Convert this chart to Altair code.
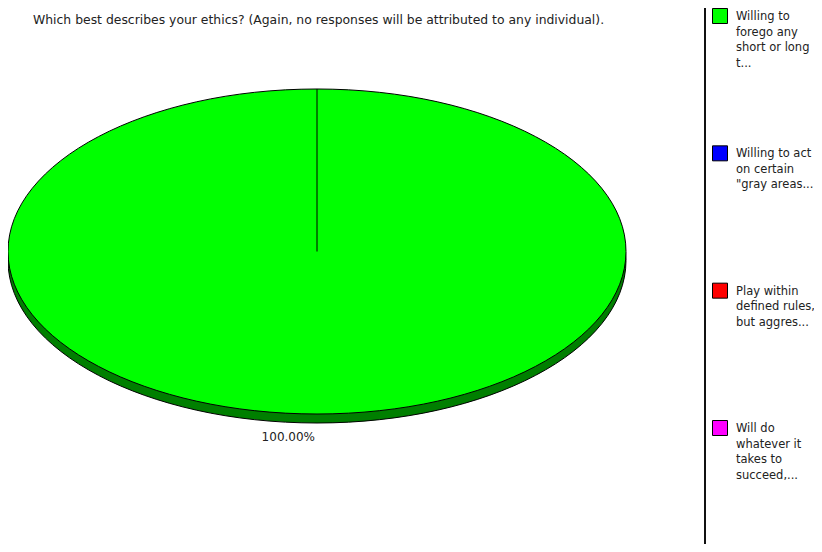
import math
import altair as alt
import pandas as pd

# ---- data ----
title_text = "Which best describes your ethics? (Again, no responses will be attributed to any individual)."
categories = [
    "Willing to forego any short or long t...",
    "Willing to act on certain \"gray areas...",
    "Play within defined rules, but aggres...",
    "Will do whatever it takes to succeed,...",
]
legend_lines = [
    ["Willing to", "forego any", "short or long", "t..."],
    ["Willing to act", "on certain", "\"gray areas..."],
    ["Play within", "defined rules,", "but aggres..."],
    ["Will do", "whatever it", "takes to", "succeed,..."],
]
shares = [100.0, 0.0, 0.0, 0.0]
colors = ["#00FF00", "#0000FF", "#FF0000", "#FF00FF"]

# ---- tables built from the arrays ----
rows = []
cum = 0.0
for cat, s in zip(categories, shares):
    start, end = cum, cum + s
    cum = end
    a0 = 2 * math.pi * start / 100.0
    am = 2 * math.pi * (start + end) / 200.0
    rows.append(dict(category=cat, share=s, cx=0.0, cy=0.0,
                     bx=math.sin(a0), by=math.cos(a0),
                     lx=math.sin(am), ly=math.cos(am),
                     label=f"{s:.2f}%"))
slices = pd.DataFrame(rows)
slices = slices[slices["share"] > 0]

legend_df = pd.DataFrame({
    "category": categories,
    "idx": list(range(len(categories))),
    "lines": legend_lines,
})

# ---- styling / layout ----
FONT = "DejaVu Sans"
K = 162.5 / 309.0  # vertical squash of the tilted pie
C = 0.5523
ellipse = (f"M-1,0 C-1,{-C*K:.4f} {-C:.4f},{-K:.4f} 0,{-K:.4f} "
           f"C{C:.4f},{-K:.4f} 1,{-C*K:.4f} 1,0 "
           f"C1,{C*K:.4f} {C:.4f},{K:.4f} 0,{K:.4f} "
           f"C{-C:.4f},{K:.4f} -1,{C*K:.4f} -1,0 Z")
PIE_W = 618
XS = alt.Scale(domain=[-1, 1], range=[0, PIE_W])
YS = alt.Scale(domain=[-1, 1], range=[406, 81])
LS = alt.Scale(domain=[0, 3], range=[8, 420])
CS = alt.Scale(domain=categories, range=colors)

base = alt.Chart(slices)

rim = base.mark_point(shape=ellipse, size=PIE_W ** 2, filled=True, opacity=1,
                      fill="#007F00", stroke="black", strokeWidth=1, yOffset=9).encode(
    x=alt.X("cx:Q", scale=XS, axis=None),
    y=alt.Y("cy:Q", scale=YS, axis=None),
)
top = base.mark_point(shape=ellipse, size=PIE_W ** 2, filled=True, opacity=1,
                      stroke="black", strokeWidth=1).encode(
    x=alt.X("cx:Q", scale=XS, axis=None),
    y=alt.Y("cy:Q", scale=YS, axis=None),
    color=alt.Color("category:N", scale=CS, legend=None),
)
edge = base.mark_rule(color="black", strokeWidth=1).encode(
    x=alt.X("cx:Q", scale=XS, axis=None),
    y=alt.Y("cy:Q", scale=YS, axis=None),
    x2="bx:Q", y2="by:Q",
)
labels = base.mark_text(font=FONT, fontSize=12, color="#222", align="right",
                        baseline="middle", dx=-2, dy=23).encode(
    x=alt.X("lx:Q", scale=XS, axis=None),
    y=alt.Y("ly:Q", scale=YS, axis=None),
    text="label:N",
)

title = alt.Chart(pd.DataFrame({"t": [title_text]})).mark_text(
    font=FONT, fontSize=12.4, color="#222", align="left", baseline="middle").encode(
    x=alt.value(25), y=alt.value(12), text="t:N")

divider = alt.Chart(pd.DataFrame({"d": [0]})).mark_rule(color="#111", strokeWidth=2).encode(
    x=alt.value(697), y=alt.value(0), y2=alt.value(544))

boxes = alt.Chart(legend_df).mark_square(size=225, filled=True, opacity=1,
                                         stroke="black", strokeWidth=1).encode(
    x=alt.value(712),
    y=alt.Y("idx:Q", scale=LS, axis=None),
    color=alt.Color("category:N", scale=CS, legend=None),
)
ltext = alt.Chart(legend_df).mark_text(font=FONT, fontSize=11.5, color="#222", align="left",
                                       baseline="top", dy=-5, lineHeight=15.5).encode(
    x=alt.value(728),
    y=alt.Y("idx:Q", scale=LS, axis=None),
    text="lines",
)

chart = alt.layer(rim, top, edge, labels, title, divider, boxes, ltext).resolve_scale(
    x="independent", y="independent"
).properties(
    width=806, height=536, autosize="none", padding=0
).configure_view(stroke=None)

chart.save("out.html", embed_options={"renderer": "svg", "actions": False})
